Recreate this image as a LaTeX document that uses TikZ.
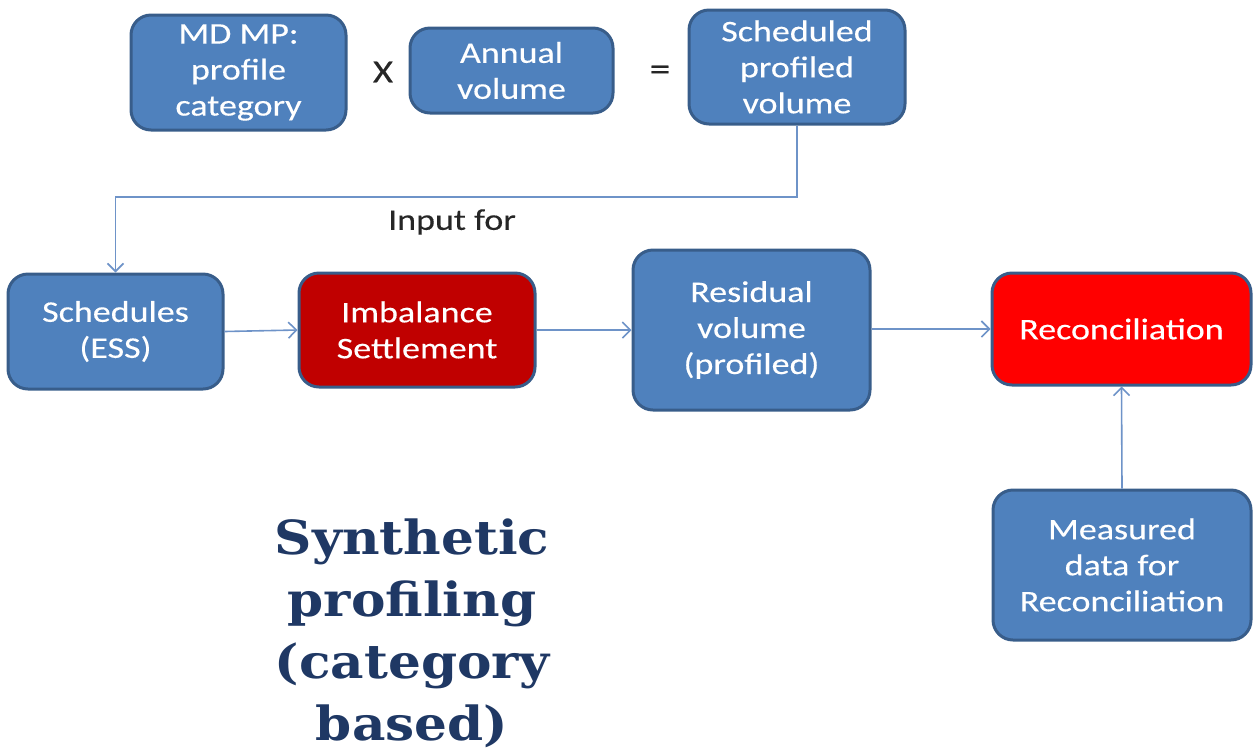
\documentclass[tikz,border=0pt]{standalone}
\usepackage{fontspec}
\setmainfont[FakeStretch=1.2,FakeBold=0.3]{Carlito}
\newfontfamily\titlefont[FakeStretch=1.1]{DejaVu Serif}
\usepackage{tikz}
\usetikzlibrary{arrows.meta}
\definecolor{boxblue}{HTML}{4F81BD}
\definecolor{boxedge}{HTML}{385D8A}
\definecolor{linkblue}{HTML}{6E93C8}
\definecolor{darkred}{HTML}{C00000}
\definecolor{brightred}{HTML}{FF0000}
\definecolor{titleblue}{HTML}{1F3864}
\begin{document}
\begin{tikzpicture}[x=.5pt,y=-.5pt,
  box/.style={draw=boxedge,line width=1.5pt,fill=boxblue,rounded corners=10pt,
    text=white,align=center,inner sep=0pt,
    font=\fontsize{15}{18}\selectfont},
  link/.style={draw=linkblue,line width=.8pt,-{Straight Barb[length=4pt,width=8pt]}},
  sign/.style={font=\fontsize{15}{18}\selectfont,text=black!85}]
\useasboundingbox (0,0) rectangle (1253,751);
%
\node[box,minimum width=107.5pt,minimum height=57.5pt] (cat) at (238.5,72.5) {MD MP:\\profile\\category};
\node[sign,font=\fontsize{16}{18}\selectfont] (times) at (383,72) {X};
\node[box,minimum width=101.5pt,minimum height=42.5pt] (annual) at (511.5,70.5) {Annual\\volume};
\node[sign,font=\fontsize{17}{18}\selectfont] (equals) at (660,73) {=};
\node[box,minimum width=108pt,minimum height=57pt] (sched) at (797,67) {Scheduled\\profiled\\volume};
%
\node[box,minimum width=107.5pt,minimum height=57.5pt] (ess) at (115.5,331.5) {Schedules\\(ESS)};
\node[box,fill=darkred,minimum width=118pt,minimum height=57pt] (imb) at (417,330) {Imbalance\\Settlement};
\node[box,minimum width=118.5pt,minimum height=80pt] (resid) at (751.5,330) {Residual\\volume\\(profiled)};
\node[box,fill=brightred,minimum width=129.5pt,minimum height=56pt] (recon) at (1121.5,329) {Reconciliation};
\node[box,minimum width=129pt,minimum height=75pt] (meas) at (1122,565) {Measured\\data for\\Reconciliation};
%
\coordinate (bend) at (115.5,197);
\node[sign] (input) at (452,222) {Input for};
\draw[link] (sched.south) |- (bend) -- (ess.north);
\draw[link] (ess.east) -- (imb.west);
\draw[link] (imb.east) -- (imb.east -| resid.west);
\draw[link] (resid.east |- recon.west) -- (recon.west);
\draw[link] (meas.north) -- (recon.south);
%
\node[text=titleblue,align=center,font=\titlefont\bfseries\fontsize{23.5}{31}\selectfont] (title) at (412,633)
  {Synthetic\\profiling\\(category\\based)};
\end{tikzpicture}
\end{document}
